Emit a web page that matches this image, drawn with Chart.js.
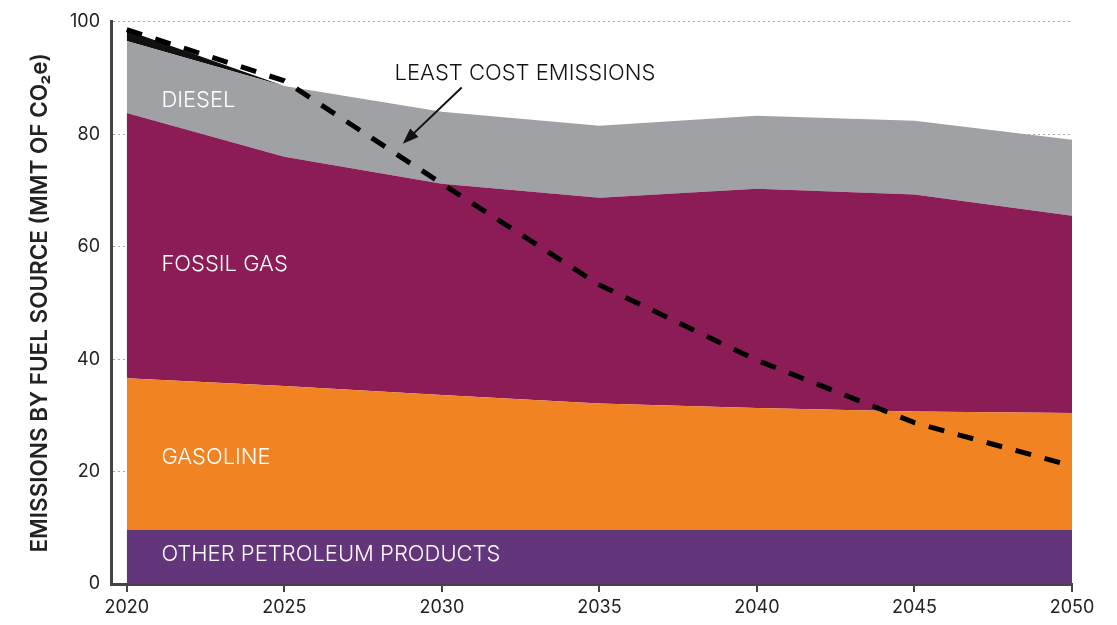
<!DOCTYPE html>
<html>
<head>
<meta charset="utf-8">
<script src="https://cdn.jsdelivr.net/npm/chart.js@4.4.1/dist/chart.umd.min.js"></script>
<style>
	html, body { margin: 0; padding: 0; background: #fff; }
	#wrap { width: 1117px; height: 625px; }
</style>
</head>
<body>
<div id="wrap"><canvas id="chart"></canvas></div>
<script>
// values (MMT CO2e)
var years = [2020, 2025, 2030, 2035, 2040, 2045, 2050];
var otherPetroleum = [9.6, 9.6, 9.6, 9.6, 9.6, 9.6, 9.6];
var gasoline = [27.0, 25.6, 24.0, 22.5, 21.7, 21.1, 20.8];
var fossilGas = [47.2, 40.8, 37.6, 36.6, 39.0, 38.6, 35.1];
var diesel = [12.8, 12.6, 12.8, 12.8, 13.0, 13.1, 13.5];
var coal = [1.9, 0, 0, 0, 0, 0, 0];
var leastCost = [98.6, 89.5, 71.2, 53.2, 39.8, 28.7, 21.0];

var areaLabels = [
	{ text: 'DIESEL', y: 86.1 },
	{ text: 'FOSSIL GAS', y: 56.8 },
	{ text: 'GASOLINE', y: 22.6 },
	{ text: 'OTHER PETROLEUM PRODUCTS', y: 5.2 }
];

var FONT = 'Inter, "Open Sans", sans-serif';

function pts(arr) {
	return years.map(function (yr, i) { return { x: yr, y: arr[i] }; });
}

function area(label, arr, color, fill) {
	return {
		label: label,
		data: pts(arr),
		backgroundColor: color,
		borderColor: color,
		borderWidth: 0,
		pointRadius: 0,
		fill: fill,
		stack: 'fuel',
		tension: 0
	};
}

var labelsPlugin = {
	id: 'labels',
	afterDatasetsDraw: function (chart) {
		var ctx = chart.ctx;
		var xs = chart.scales.x, ys = chart.scales.y;
		ctx.save();
		ctx.fillStyle = '#fff';
		ctx.font = '300 22px ' + FONT;
		ctx.textBaseline = 'middle';
		ctx.textAlign = 'left';
		areaLabels.forEach(function (l) {
			ctx.fillText(l.text, xs.getPixelForValue(2021.1), ys.getPixelForValue(l.y));
		});

		// least cost annotation + arrow
		ctx.fillStyle = '#111';
		ctx.fillText('LEAST COST EMISSIONS', xs.getPixelForValue(2028.5), ys.getPixelForValue(90.9));
		var x1 = xs.getPixelForValue(2030.63), y1 = ys.getPixelForValue(88.3);
		var x2 = xs.getPixelForValue(2028.76), y2 = ys.getPixelForValue(78.3);
		var ang = Math.atan2(y2 - y1, x2 - x1);
		ctx.strokeStyle = '#111';
		ctx.lineWidth = 2;
		ctx.beginPath();
		ctx.moveTo(x1, y1);
		ctx.lineTo(x2 - 10 * Math.cos(ang), y2 - 10 * Math.sin(ang));
		ctx.stroke();
		ctx.beginPath();
		ctx.moveTo(x2, y2);
		ctx.lineTo(x2 - 16 * Math.cos(ang) + 6 * Math.sin(ang), y2 - 16 * Math.sin(ang) - 6 * Math.cos(ang));
		ctx.lineTo(x2 - 16 * Math.cos(ang) - 6 * Math.sin(ang), y2 - 16 * Math.sin(ang) + 6 * Math.cos(ang));
		ctx.closePath();
		ctx.fill();
		ctx.restore();
	}
};

new Chart(document.getElementById('chart'), {
	type: 'line',
	data: {
		datasets: [
			area('Other petroleum products', otherPetroleum, '#63357a', 'origin'),
			area('Gasoline', gasoline, '#f28322', '-1'),
			area('Fossil gas', fossilGas, '#8b1c55', '-1'),
			area('Diesel', diesel, '#a0a1a5', '-1'),
			area('Coal', coal, '#111111', '-1'),
			{
				label: 'Least cost emissions',
				data: pts(leastCost),
				borderColor: '#000',
				borderWidth: 5,
				borderDash: [16, 14],
				pointRadius: 0,
				fill: false,
				stack: 'lc',
				order: -1,
				tension: 0
			}
		]
	},
	options: {
		responsive: true,
		maintainAspectRatio: false,
		animation: false,
		layout: { padding: { left: 0, right: 45, top: 21, bottom: 0 } },
		plugins: {
			legend: { display: false },
			tooltip: { enabled: false }
		},
		scales: {
			x: {
				type: 'linear',
				min: 2019.5,
				max: 2050,
				afterBuildTicks: function (axis) {
					axis.ticks = years.map(function (v) { return { value: v }; });
				},
				afterFit: function (scale) { scale.height = 41; },
				grid: {
					drawOnChartArea: false,
					drawTicks: true,
					tickLength: 8,
					color: '#444',
					lineWidth: 2
				},
				border: { color: '#444', width: 3 },
				ticks: {
					padding: 5,
					color: '#222',
					maxRotation: 0,
					font: { family: FONT, size: 18 },
					callback: function (v) { return String(v); }
				}
			},
			y: {
				stacked: true,
				min: 0,
				max: 100,
				afterFit: function (scale) { scale.width = 111; },
				grid: {
					color: '#aaa',
					lineWidth: 1,
					drawTicks: false
				},
				border: { color: '#444', width: 3, dash: [2, 3] },
				ticks: {
					stepSize: 20,
					padding: 11,
					color: '#222',
					font: { family: FONT, size: 18 }
				},
				title: {
					display: true,
					text: 'EMISSIONS BY FUEL SOURCE (MMT OF CO\u2082e)',
					color: '#222',
					font: { family: FONT, size: 22.5, weight: '600' },
					padding: { top: 27, bottom: 0 }
				}
			}
		}
	},
	plugins: [labelsPlugin]
});
</script>
</body>
</html>
